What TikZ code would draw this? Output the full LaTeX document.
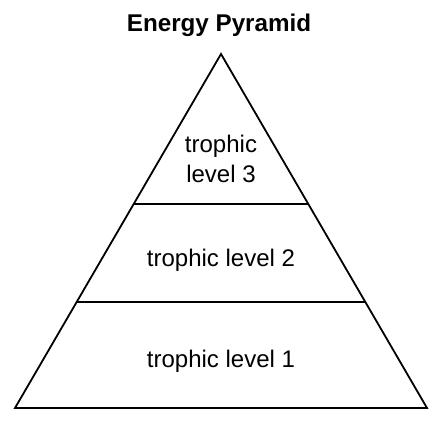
\documentclass[tikz,border=0pt]{standalone}
\usepackage{fontspec}
\setmainfont{Liberation Sans}
\begin{document}
\begin{tikzpicture}[x=1pt,y=1pt,
  edge/.style={draw=black,line width=1.8pt,line join=miter},
  lbl/.style={font=\fontsize{24}{30}\selectfont,anchor=base,inner sep=0pt},
  ttl/.style={font=\fontsize{24.2}{28}\selectfont\bfseries,anchor=base,inner sep=0pt}]
\useasboundingbox (0,0) rectangle (443,430);
\coordinate (apex) at (221,376);
\coordinate (bl) at (15,22);
\coordinate (br) at (427,22);
\coordinate (l2l) at (133.7,226);
\coordinate (l2r) at (308.3,226);
\coordinate (l1l) at (76.7,128);
\coordinate (l1r) at (365.3,128);
\draw[edge] (bl) -- (apex) -- (br) -- cycle;
\draw[edge] (l2l) -- (l2r);
\draw[edge] (l1l) -- (l1r);
\node[ttl] (title) at (219,398) {Energy Pyramid};
\node[lbl] (t3a) at (221,277) {trophic};
\node[lbl] (t3b) at (221,247) {level 3};
\node[lbl] (t2) at (221,163) {trophic level 2};
\node[lbl] (t1) at (221,63) {trophic level 1};
\end{tikzpicture}
\end{document}
